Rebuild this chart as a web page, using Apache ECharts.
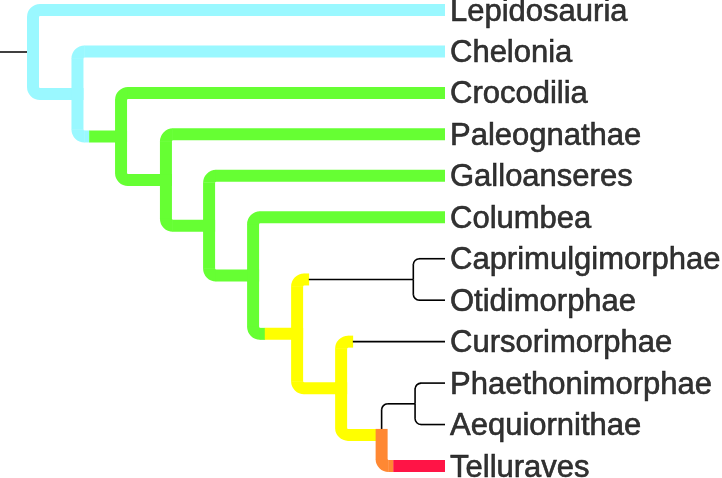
<!DOCTYPE html>
<html><head><meta charset="utf-8">
<script src="https://cdn.jsdelivr.net/npm/echarts@6/dist/echarts.min.js"></script>
<style>html,body{margin:0;padding:0;background:#fff}#c{width:722px;height:478px}</style>
</head><body><div id="c"></div>
<script>
// ---- DATA ----
const leaves = ['Lepidosauria','Chelonia','Crocodilia','Paleognathae','Galloanseres','Columbea',
  'Caprimulgimorphae','Otidimorphae','Cursorimorphae','Phaethonimorphae','Aequiornithae','Telluraves'];
const leafDepth = 9.36;
const nodeNames = ['root','n2','n3','n4','n5','n6','n7','n8','n9','n10','n11'];
const nodeDepth = [0, 1.01, 2.0, 3.02, 4.0, 5.0, 6.0, 8.64, 7.0, 7.92, 8.68];
const nodeChildren = [
  ['Lepidosauria','n2'],
  ['Chelonia','n3'],
  ['Crocodilia','n4'],
  ['Paleognathae','n5'],
  ['Galloanseres','n6'],
  ['Columbea','n7'],
  ['n8','n9'],
  ['Caprimulgimorphae','Otidimorphae'],
  ['Cursorimorphae','n10'],
  ['n11','Telluraves'],
  ['Phaethonimorphae','Aequiornithae']
];
const rootStubDepth = -0.75;
// clade group of each branch (horizontal part) and of its stem (vertical part), keyed by child
const branchGroup = {
  Lepidosauria:'rept', n2:'rept', Chelonia:'rept', n3:'arch', Crocodilia:'arch', n4:'arch',
  Paleognathae:'arch', n5:'arch', Galloanseres:'arch', n6:'arch', Columbea:'arch', n7:'neo',
  n8:'none', n9:'neo', Cursorimorphae:'none', n10:'neo', n11:'none', Telluraves:'tell',
  Caprimulgimorphae:'none', Otidimorphae:'none', Phaethonimorphae:'none', Aequiornithae:'none'
};
const stemGroup = {
  Lepidosauria:'rept', n2:'rept', Chelonia:'rept', n3:'rept', Crocodilia:'arch', n4:'arch',
  Paleognathae:'arch', n5:'arch', Galloanseres:'arch', n6:'arch', Columbea:'arch', n7:'arch',
  n8:'neo', n9:'neo', Cursorimorphae:'neo', n10:'neo', n11:'none', Telluraves:'land',
  Caprimulgimorphae:'none', Otidimorphae:'none', Phaethonimorphae:'none', Aequiornithae:'none'
};
// ---- STYLE ----
const palette = {rept:'#9AF8FF', arch:'#66FF33', neo:'#FFFF00', land:'#FF8833', tell:'#FF1446', none:'#000000'};

// ---- LAYOUT (tree -> data coords) ----
const yOf = {}, depthOf = {};
leaves.forEach((n,i)=>{ yOf[n]=i; depthOf[n]=leafDepth; });
function nodeY(name){
  if (name in yOf) return yOf[name];
  const k = nodeNames.indexOf(name);
  const ch = nodeChildren[k];
  const y = (nodeY(ch[0]) + nodeY(ch[1]))/2;
  yOf[name]=y; depthOf[name]=nodeDepth[k];
  return y;
}
nodeY('root');
const edges = [];
edges.push({root:true, value:[rootStubDepth, yOf.root, 0, yOf.root]});
function walk(name){
  const k = nodeNames.indexOf(name);
  if (k<0) return;
  nodeChildren[k].forEach(ch=>{
    edges.push({child:ch, value:[depthOf[name], yOf[name], depthOf[ch], yOf[ch]]});
  });
  nodeChildren[k].forEach(walk);
}
walk('root');

const W = 12, w = 1.6, R = 7, EXT = 12;
function seg(pts, color, lw){
  return {type:'polyline', shape:{points:pts}, style:{stroke:color, lineWidth:lw, fill:'none', lineCap:'butt'}, silent:true};
}
function renderItem(params, api){
  const e = edges[params.dataIndex];
  const p = api.coord([api.value(0), api.value(1)]);
  const c = api.coord([api.value(2), api.value(3)]);
  const kids = [];
  if (e.root){
    kids.push(seg([[p[0],p[1]],[c[0],c[1]]], '#000', w));
    return {type:'group', children:kids};
  }
  const s = c[1] > p[1] ? 1 : -1;
  const sc = palette[stemGroup[e.child]], hc = palette[branchGroup[e.child]];
  const thick = stemGroup[e.child] !== 'none';
  const sw = thick ? W : w;
  const r = thick ? R : 6;
  kids.push(seg([[p[0], p[1] - s*(thick ? W/2 : 0)], [p[0], c[1] - s*r + s*0.3]], sc, sw));
  kids.push({type:'arc', silent:true,
    shape:{cx:p[0]+r, cy:c[1]-s*r, r:r,
      startAngle: s>0 ? Math.PI/2 : Math.PI, endAngle: s>0 ? Math.PI : Math.PI*1.5, clockwise:true},
    style:{stroke:sc, lineWidth:sw, fill:'none', lineCap:'butt'}});
  if (hc === sc){
    kids.push(seg([[p[0]+r-0.3, c[1]], [c[0], c[1]]], hc, sw));
  } else {
    kids.push(seg([[p[0]+r-0.3, c[1]], [p[0]+EXT, c[1]]], sc, sw));
    const hw = branchGroup[e.child] === 'none' ? w : W;
    kids.push(seg([[p[0]+EXT-0.3, c[1]], [c[0], c[1]]], hc, hw));
  }
  return {type:'group', children:kids};
}

const chart = echarts.init(document.getElementById('c'), null, {renderer:'canvas'});
chart.setOption({
  animation:false,
  backgroundColor:'#ffffff',
  grid:{left:0, right:277, top:10, bottom:12},
  xAxis:{type:'value', min:rootStubDepth, max:leafDepth, show:false},
  yAxis:{type:'value', min:0, max:leaves.length-1, inverse:true, show:false},
  series:[
    {type:'custom', renderItem:renderItem, data:edges.map(e=>e.value), clip:false, silent:true},
    {type:'scatter', symbolSize:0, silent:true,
      data:leaves.map((n,i)=>({value:[leafDepth,i], name:n})),
      label:{show:true, position:'right', distance:5, offset:[0,2], formatter:'{b}',
        fontSize:31, color:'#000', textBorderColor:'#000', textBorderWidth:0.6,
        fontFamily:'Liberation Sans, Arial, sans-serif'}}
  ]
});
</script></body></html>
